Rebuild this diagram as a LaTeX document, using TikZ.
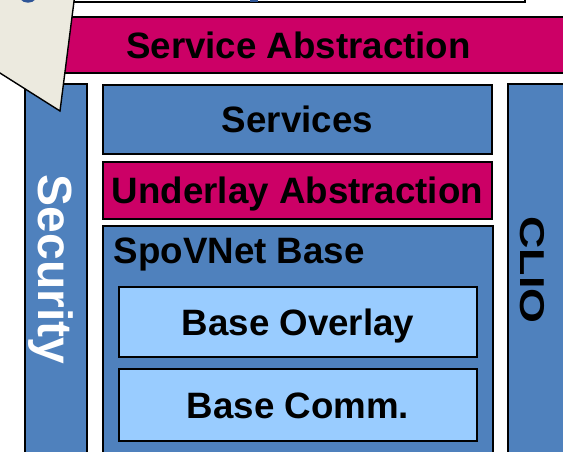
\documentclass[tikz,border=0pt]{standalone}
\usepackage{fontspec}
\setmainfont{Liberation Sans}
\definecolor{boxblue}{HTML}{4F81BD}
\definecolor{abstr}{HTML}{CC0066}
\definecolor{lightblue}{HTML}{99CCFF}
\definecolor{calloutfill}{HTML}{ECEADF}
\definecolor{frag}{HTML}{2E5597}
\begin{document}
\begin{tikzpicture}[x=1pt,y=-1pt,
  layer/.style={draw=black, line width=1.4pt, inner sep=0pt,
    font=\fontsize{36.7}{40}\selectfont\bfseries,
    text height=26.3pt, text depth=0pt},
  bluebox/.style={layer, fill=boxblue},
  abstrbox/.style={layer, fill=abstr},
  innerbox/.style={layer, fill=lightblue},
  sidelabel/.style={inner sep=0pt, anchor=base, rotate=-90}
]
\clip (0,0) rectangle (563,452);
\useasboundingbox (0,0) rectangle (563,452);

% top (cut) box
\node[draw=black, line width=1.4pt, fill=white, minimum width=485pt, minimum height=62pt] (topbox) at (282.5,-29) {};
\fill[frag] (250,-1) rectangle (258,2);

% Service Abstraction
\node[abstrbox, minimum width=537pt, minimum height=56pt] (svcabs) at (298.5,45) {Service Abstraction};

% side columns
\node[bluebox, minimum width=62pt, minimum height=386pt] (security) at (56,277) {};
\node[sidelabel, text=white, font=\fontsize{48}{50}\selectfont\bfseries] (securitytext) at (38.3,269.5) {Security};

\node[bluebox, minimum width=72pt, minimum height=386pt] (clio) at (544,277) {};
\node[sidelabel, text=black, font=\fontsize{34.5}{38}\selectfont\bfseries] (cliotext) at (520.7,270) {\scalebox{1.3}[1]{CLIO}};

% Services
\node[bluebox, minimum width=389pt, minimum height=69pt] (services) at (297.5,119.5) {Services};

% Underlay Abstraction
\node[abstrbox, minimum width=389pt, minimum height=57pt] (underlay) at (297.5,190.5) {Underlay Abstraction};

% SpoVNet Base
\node[bluebox, minimum width=390pt, minimum height=244pt] (spovnet) at (298,348) {};
\node[inner sep=0pt, anchor=base west, font=\fontsize{36.7}{40}\selectfont\bfseries] (spovnettext) at (113.5,263) {SpoVNet Base};

\node[innerbox, minimum width=358pt, minimum height=70pt] (overlay) at (298,322) {Base Overlay};
\node[innerbox, minimum width=358pt, minimum height=72pt] (comm) at (298,405) {Base Comm.};

% callout
\filldraw[fill=calloutfill, draw=black, line width=1.4pt, line join=miter]
  (78,-30) -- (60,111) -- (-10,66.7) -- (-10,-30) -- cycle;
\fill[frag] (20,-1) .. controls (24,4) and (32,4) .. (36,-1) -- cycle;
\end{tikzpicture}
\end{document}
